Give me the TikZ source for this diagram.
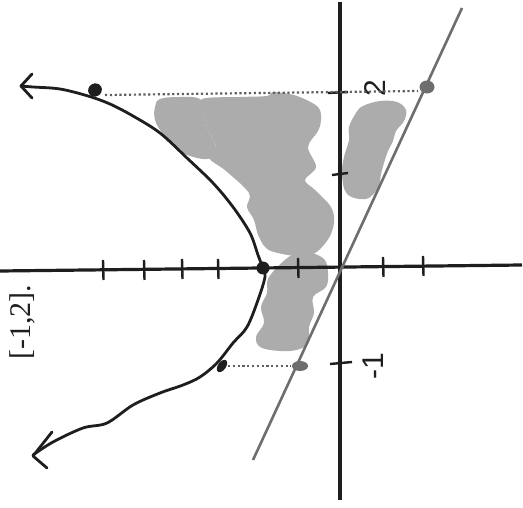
\documentclass[tikz,border=0pt]{standalone}
\usepackage{fontspec}
\setmainfont{Liberation Serif}
\newfontfamily\handfont{Liberation Sans}
\usetikzlibrary{shapes.geometric,calc}
\definecolor{blobgray}{RGB}{172,172,172}
\definecolor{inkdark}{RGB}{30,30,30}
\definecolor{linegray}{RGB}{110,110,110}
\definecolor{dotgray}{RGB}{95,95,95}
\tikzset{
  blob/.style={fill=blobgray, draw=none},
  axisline/.style={draw=inkdark, line width=3.2pt},
  tickmark/.style={draw=inkdark, line width=2.4pt},
  curveline/.style={draw=inkdark, line width=2.8pt, line cap=round, line join=round},
  grayline/.style={draw=linegray, line width=2.6pt},
  dotline/.style={draw=dotgray, line width=2.2pt, dash pattern=on 2.2pt off 2.6pt},
  pdot/.style={ellipse, fill=inkdark, inner sep=0pt, minimum width=14pt, minimum height=13pt},
  ldot/.style={ellipse, fill=linegray, inner sep=0pt, minimum width=15pt, minimum height=13pt},
  hand/.style={font=\handfont\fontsize{30}{30}\selectfont, text=inkdark, inner sep=0pt, rotate=90},
}
\begin{document}
\begin{tikzpicture}[x=1pt,y=-1pt]
\useasboundingbox (0,0) rectangle (523,508);
\fill[white] (0,0) rectangle (523,508);
% shaded blobs
\fill[blob] plot[smooth cycle, tension=0.6] coordinates {(155,107) (160,99) (180,97) (200,99) (204,113) (208,130) (216,147) (211,158) (197,158) (180,151) (163,134) (155,120)};
\fill[blob] plot[smooth cycle, tension=0.55] coordinates {(202,99) (240,97) (267,96) (274,92) (297,96) (318,107) (321,120) (318,131) (308,147) (316,167) (305,180) (315,190) (331,207) (334,223) (327,241) (308,256) (271,251) (259,237) (254,220) (247,207) (249,193) (226,171) (209,158) (216,147) (208,130) (204,113)};
\fill[blob] plot[smooth cycle, tension=0.6] coordinates {(290,256) (307,252) (324,259) (328,273) (326,287) (313,297) (314,313) (309,327) (308,344) (290,351) (262,348) (256,337) (264,323) (261,307) (267,293) (269,277)};
\fill[blob] plot[smooth cycle, tension=0.6] coordinates {(363,106) (380,101) (397,102) (406,110) (404,121) (396,131) (393,141) (388,151) (384,163) (381,174) (378,188) (366,199) (347,194) (342,174) (344,157) (349,140) (349,127) (356,113)};
% axes
\coordinate (xl) at (0,271);
\coordinate (xr) at (522,265);
\coordinate (yt) at (340,2);
\coordinate (yb) at (340,500);
\draw[axisline] (xl) -- (xr);
\draw[axisline] (yt) -- (yb);
% ticks on x-axis
\foreach \tx/\ty in {103/270, 144/270, 182/269, 218/269, 298/268, 383/267, 423/266}
  \draw[tickmark] (\tx,\ty-10) -- (\tx+0.5,\ty+10);
% ticks on y-axis
\draw[tickmark] (328,93) -- (348,92);
\draw[tickmark] (332,175) -- (348,173);
\draw[tickmark] (330,364) -- (352,362);
% labels
\node[hand] (l2) at (375,88) {2};
\node[hand] (lm1) at (373,366) {-1};
\node[font=\fontsize{30}{30}\selectfont, rotate=90, inner sep=0pt, text=inkdark] (interval) at (22,322) {[-1,2].};
% line y = x
\coordinate (lt) at (462,8);
\coordinate (lb) at (253,460);
\draw[grayline] (lt) -- (lb);
% parabola
\draw[curveline] plot[smooth, tension=0.55] coordinates {(21,86) (33,87) (60,89) (88,96) (110,104) (133,116) (160,133) (187,158) (213,183) (233,207) (250,233) (258,255) (263,268)};
\draw[curveline] plot[smooth, tension=0.55] coordinates {(263,268) (265,277) (258,300) (247,327) (233,343) (217,363) (200,377) (183,385) (160,393) (133,405) (107,423) (83,428) (53,442) (33,455)};
% hand-drawn arrow heads
\coordinate (ua) at (21,86);
\coordinate (ub1) at (32,74);
\coordinate (ub2) at (32,98);
\draw[curveline] (ub1) -- (ua) -- (ub2);
\coordinate (la) at (33,456);
\coordinate (lb1) at (52,432);
\coordinate (lb2) at (47,468);
\draw[curveline] (lb1) -- (la) -- (lb2);
% points
\node[pdot, rotate=30] (P1) at (95,90) {};
\node[pdot, minimum width=14pt, minimum height=8pt, rotate=55] (P2) at (222,366) {};
\node[pdot, minimum width=13pt, minimum height=13pt] (V) at (263,268) {};
\node[ldot] (L1) at (427,87) {};
\node[ldot, minimum width=16pt, minimum height=10pt] (L2) at (300,366) {};
% dotted connectors
\draw[dotline] ($(P1)+(10,5)$) -- ($(L1)+(-9,4)$);
\draw[dotline] ($(P2)+(6,0)$) -- ($(L2)+(-9,0)$);
\end{tikzpicture}
\end{document}
